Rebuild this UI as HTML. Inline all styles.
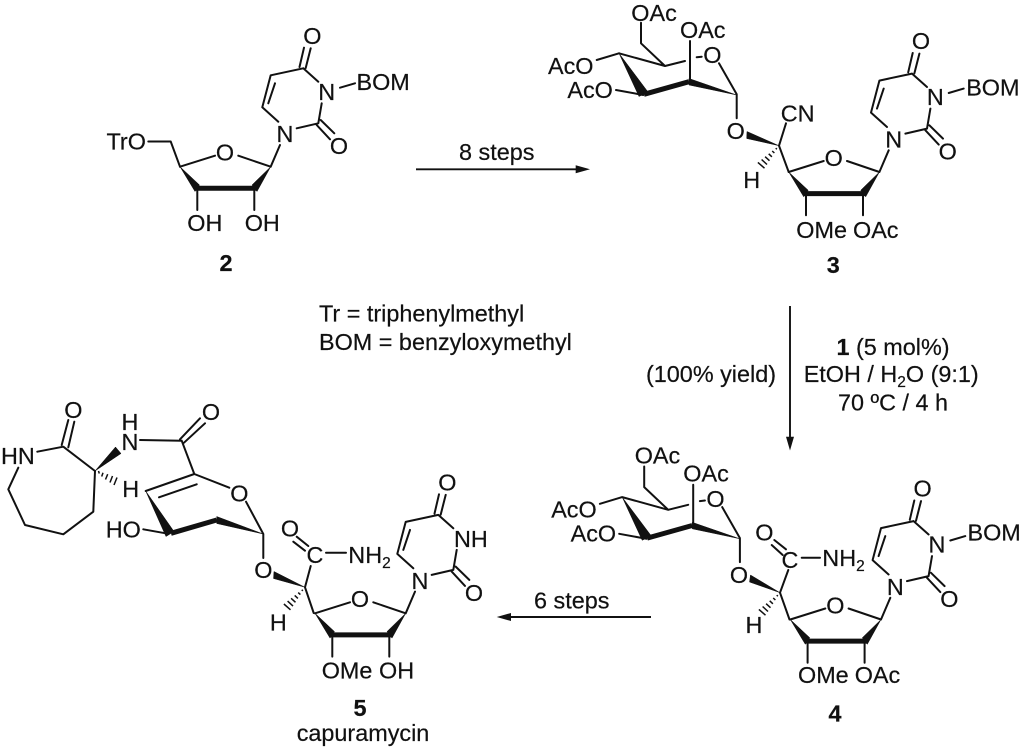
<!DOCTYPE html>
<html><head><meta charset="utf-8"><style>
html,body{margin:0;padding:0;background:#fff;width:1024px;height:754px;overflow:hidden}
svg{display:block}
text{font-family:"Liberation Sans",sans-serif;font-size:23.4px;fill:#111;stroke:#111;stroke-width:.2}
.m{text-anchor:middle}
.b{font-weight:bold}
.l{fill:none;stroke:#111;stroke-width:2;stroke-linecap:round;stroke-linejoin:round}
.h{fill:none;stroke:#111;stroke-width:1.5}
.f{fill:#111;stroke:#111;stroke-width:.5;stroke-linejoin:round}
.w{fill:none;stroke:#111;stroke-width:5}
</style></head><body>
<svg width="1024" height="754" viewBox="0 0 1024 754" xmlns="http://www.w3.org/2000/svg">
<defs>
<g id="nuc">
<path class="l" d="M304 47.7L299.5 67M310.7 48.3L305.7 68M303.3 68.3L270.7 75.3L262.3 107.3L278.3 121.7M275 83.3L268.3 103.3M296.7 128.3L318.3 123.3L321.7 103.3M303.3 68.3L318.3 81.7M320.7 120L334.3 133.3M316.7 125L330 139.3M280 145L270.7 166.7M215 155.7L180 166.7M238.3 155.7L270.7 166.7M197.3 188.3V210M254.3 188.3V210"/>
<path class="f" d="M180 166.7L199.5 185L195 191.5ZM270.7 166.7L257 191.5L252 185Z"/>
<path class="w" d="M195 188.3H257"/>
</g>
<g id="hash">
<path class="h" d="M-3.3 2.5L-2.1 3.5M-6.8 5.3L-4.6 7.3M-10.3 8.1L-7.1 11.1M-13.9 11L-9.5 15M-17.4 13.8L-12 18.8M-21.1 16.7L-14.5 22.5"/>
</g>
<g id="sugar">
<path class="l" d="M641 22.7V43.3L665 66M619 53.3L665 66L685 61M696.7 57.3L701.7 56.7M719 63.3L736.7 94.3M596.7 60L619 53.3M616 90L643.3 95M690 41V80M736.7 95V118.3"/>
<path class="f" d="M619 53.3L639 96.5L648 92ZM689 78.5L689 85L736.7 95Z"/>
<path class="w" d="M644 94.3L689 81.7"/>
</g>
</defs>

<!-- compound 2 -->
<use href="#nuc"/>
<path class="l" d="M340 87.7L355 83.3M148.3 141.5H170.7L180 166.7"/>
<text x="312.3" y="43.9" class="m">O</text>
<text x="326.7" y="99.9" class="m">N</text>
<text x="285" y="142.2" class="m">N</text>
<text x="339" y="154.2" class="m">O</text>
<text x="225" y="160.5" class="m">O</text>
<text x="356.5" y="90.2">BOM</text>
<text x="106.5" y="149.7">TrO</text>
<text x="187.3" y="231">OH</text>
<text x="244.7" y="231">OH</text>
<text x="226" y="271" class="m b">2</text>

<!-- arrow 8 steps -->
<path d="M416 169.3H580" fill="none" stroke="#111" stroke-width="1.9"/>
<path d="M590 169.3L575.7 165.3V173.3Z" fill="#111"/>
<text x="459" y="160">8 steps</text>

<!-- compound 3 -->
<g transform="translate(608.7 5.3)"><use href="#nuc"/><path class="l" d="M340 87.7L355 83.3"/>
<text x="312.3" y="43.9" class="m">O</text>
<text x="326.7" y="99.9" class="m">N</text>
<text x="285" y="142.2" class="m">N</text>
<text x="339" y="154.2" class="m">O</text>
<text x="225" y="160.5" class="m">O</text>
<text x="357.5" y="90.2">BOM</text></g>
<use href="#sugar"/>
<path class="l" d="M786 123.3L779 145.7L788.7 172"/>
<path class="f" d="M779 145.7L747 131.5L746.7 138.5Z"/>
<use href="#hash" x="779" y="145.7"/>
<text x="631.3" y="21.2">OAc</text>
<text x="680" y="38.2">OAc</text>
<text x="712.3" y="63.2" class="m">O</text>
<text x="548" y="74.2">AcO</text>
<text x="567.4" y="98.2">AcO</text>
<text x="735.7" y="139.2" class="m">O</text>
<text x="780.7" y="121.5">CN</text>
<text x="751.7" y="188.2" class="m">H</text>
<text x="796.3" y="238.2">OMe</text>
<text x="853" y="238.2">OAc</text>
<text x="833.3" y="273" class="m b">3</text>

<!-- notes -->
<text x="319" y="321.7">Tr = triphenylmethyl</text>
<text x="319" y="350">BOM = benzyloxymethyl</text>

<!-- vertical arrow -->
<path d="M790 306V440" fill="none" stroke="#111" stroke-width="1.9"/>
<path d="M790 450.5L786 436.7H794Z" fill="#111"/>
<text x="646" y="382">(100% yield)</text>
<text x="893" y="355" class="m"><tspan font-weight="bold">1</tspan> (5 mol%)</text>
<text x="803.7" y="382">EtOH / H<tspan dy="5" font-size="15.5">2</tspan><tspan dy="-5">O (9:1)</tspan></text>
<text x="893" y="410.7" class="m">70 ºC / 4 h</text>

<!-- compound 4 -->
<g transform="translate(610.3 452.8)"><use href="#nuc"/><path class="l" d="M340 87.7L355 83.3"/>
<text x="312.3" y="43.9" class="m">O</text>
<text x="326.7" y="99.9" class="m">N</text>
<text x="285" y="142.2" class="m">N</text>
<text x="339" y="154.2" class="m">O</text>
<text x="225" y="160.5" class="m">O</text>
<text x="357.2" y="87.7">BOM</text></g>
<use href="#sugar" x="3.2" y="443.8"/>
<path class="l" d="M788.3 570L780 592.7L789.5 619.5M801.7 557.7H820M774.3 540L786 549.3M771.7 545L782.7 555"/>
<path class="f" d="M780 592.7L750.5 575L749.5 582Z"/>
<use href="#hash" x="780" y="592.7"/>
<text x="634.7" y="463.7">OAc</text>
<text x="683.3" y="481.5">OAc</text>
<text x="715.5" y="507" class="m">O</text>
<text x="551.2" y="517.7">AcO</text>
<text x="570.6" y="541.7">AcO</text>
<text x="739" y="583.2" class="m">O</text>
<text x="790" y="568.2" class="m">C</text>
<text x="764.3" y="540.5" class="m">O</text>
<text x="754" y="633.2" class="m">H</text>
<text x="822.3" y="566.2">NH<tspan dy="5" font-size="15.5">2</tspan></text>
<text x="798" y="683.2">OMe</text>
<text x="854.7" y="683.2">OAc</text>
<text x="835" y="721.5" class="m b">4</text>

<!-- arrow 6 steps -->
<path d="M651 617H506" fill="none" stroke="#111" stroke-width="1.9"/>
<path d="M496.7 617L511 613V621Z" fill="#111"/>
<text x="534" y="608.3">6 steps</text>

<!-- compound 5 -->
<g transform="translate(135 446.6)"><use href="#nuc"/>
<text x="312.3" y="43.9" class="m">O</text>
<text x="285" y="142.2" class="m">N</text>
<text x="339" y="154.2" class="m">O</text>
<text x="225" y="160.5" class="m">O</text></g>
<text x="454" y="547.2">NH</text>
<path class="l" d="M263.3 534V558M246 501.7L263.3 534M194.3 474L229.3 487.7M194.3 474L145.7 491M196.7 484.3L159 497.3M143.3 529.3L165.7 533.3M181.7 440.7L194.3 474M180 439.3L200 418.3M184 442.7L205 423.3M140 440L181.7 440.7M37.3 451.7L63.3 446.7L95 471L93.3 511.7L63.3 534.3L25 525L8.3 489.3L18.3 467.7M61.7 445L68.3 420M68.3 447.3L74.3 421.7M310.7 566L305 587.3L313.7 613M296.7 536.7L308.3 546M293.3 541.7L305 550.7M326 552.7H346"/>
<path class="f" d="M145.7 491L166 536.5L174 531.5ZM216.7 516.5V523.5L263.3 534ZM95 471L115.5 447L121 453.5ZM305 587.3L274 571.5L273.5 578.5Z"/>
<path class="w" d="M171 533.3L216.7 520"/>
<path class="h" d="M98.5 471L99.3 473.5M103 472.8L101.7 476.5M107.7 474.2L105.5 479.5M112.5 476L110 482.5M117 477.5L114 485"/>
<use href="#hash" x="305" y="587.3"/>
<text x="239.3" y="501.5" class="m">O</text>
<text x="211" y="419.9" class="m">O</text>
<text x="73.3" y="418.2" class="m">O</text>
<text x="130" y="449.9" class="m">N</text>
<text x="130" y="429.9" class="m">H</text>
<text x="130.7" y="497.2" class="m">H</text>
<text x="1" y="463.9">HN</text>
<text x="105.7" y="537.5">HO</text>
<text x="263.3" y="578.2" class="m">O</text>
<text x="315" y="563.2" class="m">C</text>
<text x="290" y="536.5" class="m">O</text>
<text x="278.3" y="630.5" class="m">H</text>
<text x="348.3" y="563.2">NH<tspan dy="5" font-size="15.5">2</tspan></text>
<text x="321.7" y="678.7">OMe</text>
<text x="379" y="678.7">OH</text>
<text x="360" y="716" class="m b">5</text>
<text x="363" y="741" class="m">capuramycin</text>
</svg>
</body></html>
